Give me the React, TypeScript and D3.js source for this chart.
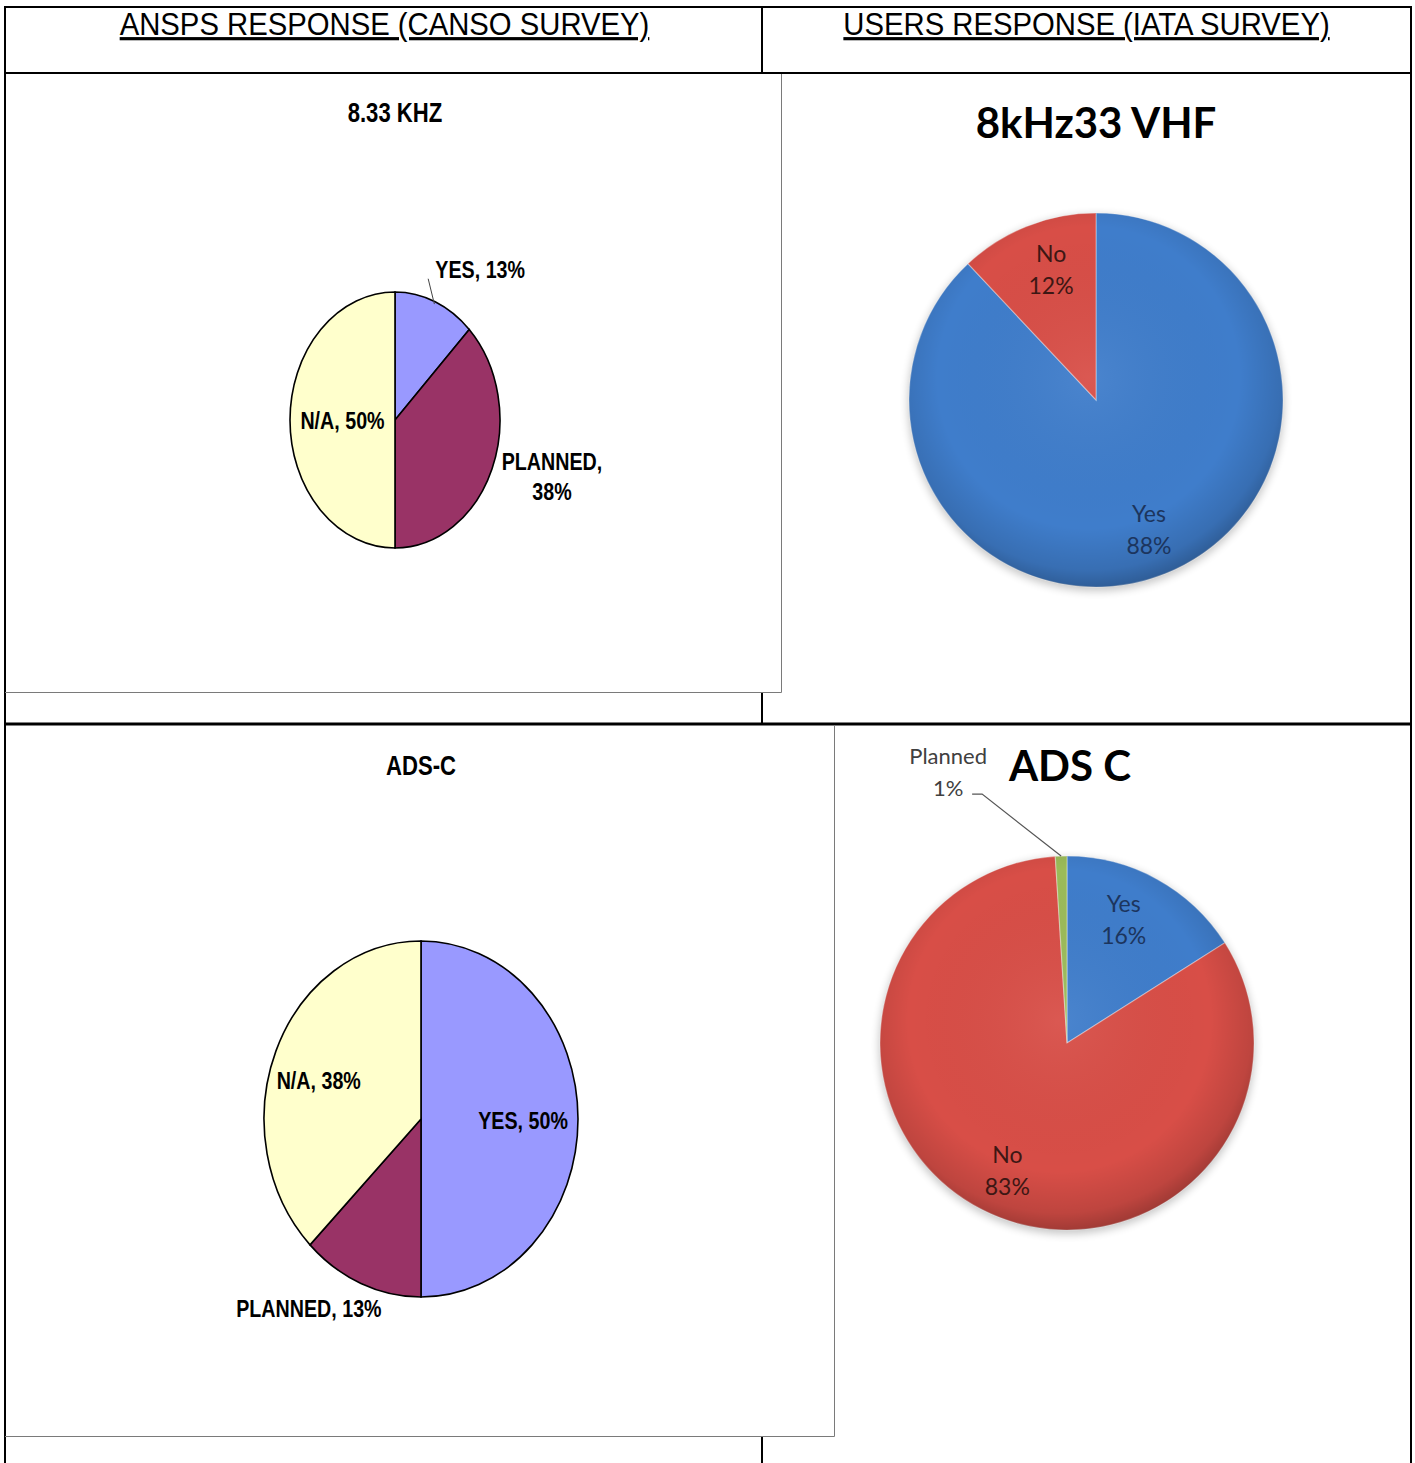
import React from "react";
import * as d3 from "d3";

const W = 1415;
const H = 1463;

// ---------- data ----------
const headerTitles = ["ANSPS RESPONSE (CANSO SURVEY)", "USERS RESPONSE (IATA SURVEY)"];

const cansoVhfTitle = "8.33 KHZ";
const cansoVhfCategories = ["YES", "PLANNED", "N/A"];
const cansoVhfValues = [12.5, 37.5, 50];

const cansoAdscTitle = "ADS-C";
const cansoAdscCategories = ["YES", "PLANNED", "N/A"];
const cansoAdscValues = [50, 12.5, 37.5];

const iataVhfTitle = "8kHz33 VHF";
const iataVhfCategories = ["Yes", "No"];
const iataVhfValues = [88, 12];

const iataAdscTitle = "ADS C";
const iataAdscCategories = ["Yes", "No", "Planned"];
const iataAdscValues = [16, 83, 1];

// ---------- styles ----------
const cansoColors: Record<string, string> = { YES: "#9999ff", PLANNED: "#993366", "N/A": "#ffffcc" };
const iataColors: Record<string, string> = { Yes: "#3f7dcb", No: "#d84e47", Planned: "#9bbb59" };
const iataTextColors: Record<string, string> = { Yes: "#1c355e", No: "#3d1714", Planned: "#404040" };

const ARIAL = "'Liberation Sans', Arial, sans-serif";
const CAL = "Lato, 'Open Sans', sans-serif";
const pct = d3.format(".0%");

type LabelCfg = { r: number; dx: number; dy: number; split?: boolean; leader?: number[] };

function NText(props: any) {
  const { x, y, anchor = "middle", size, weight = "bold", children, underline, sx = 0.82 } = props;
  return (
    <text
      transform={`translate(${x},${y}) scale(${sx},1)`}
      textAnchor={anchor}
      fontFamily={ARIAL}
      fontSize={size}
      fontWeight={weight}
      fill="#000"
      style={underline ? { textDecoration: "underline" } : undefined}
    >
      {children}
    </text>
  );
}

function polar(a: number, rx: number, ry: number) {
  return [Math.sin(a) * rx, -Math.cos(a) * ry];
}

function CansoPie(props: any) {
  const { title, titleX, titleY, categories, values, cx, cy, rx, ry, labels } = props;
  const total = d3.sum(values as number[]);
  const pie = d3.pie<number>().sort(null).value((d) => d);
  const arcs = pie(values);
  const arc = d3.arc<any>().innerRadius(0).outerRadius(1);
  return (
    <g>
      <NText x={titleX} y={titleY} size={27}>{title}</NText>
      <g transform={`translate(${cx},${cy}) scale(${rx},${ry})`}>
        {arcs.map((a, i) => (
          <path
            key={i}
            d={arc(a) as string}
            fill={cansoColors[categories[i]]}
            stroke="#000"
            strokeWidth={1.6}
            vectorEffect="non-scaling-stroke"
          />
        ))}
      </g>
      {arcs.map((a, i) => {
        const cfg: LabelCfg = labels[i];
        const mid = (a.startAngle + a.endAngle) / 2;
        const [px, py] = polar(mid, rx * cfg.r, ry * cfg.r);
        const lx = cx + px + cfg.dx;
        const ly = cy + py + cfg.dy;
        const txt = `${categories[i]}, ${pct(values[i] / total)}`;
        const parts = cfg.split ? [`${categories[i]},`, pct(values[i] / total)] : [txt];
        const [ex, ey] = polar(mid, rx * 0.98, ry * 0.98);
        return (
          <g key={i}>
            {cfg.leader && (
              <line
                x1={cx + ex}
                y1={cy + ey}
                x2={lx + cfg.leader[0]}
                y2={ly + cfg.leader[1]}
                stroke="#444"
                strokeWidth={1}
              />
            )}
            {parts.map((p, j) => (
              <NText key={j} x={lx} y={ly + 8 + (j - (parts.length - 1) / 2) * 30} size={24}>
                {p}
              </NText>
            ))}
          </g>
        );
      })}
    </g>
  );
}

function IataPie(props: any) {
  const { id, title, titleX, titleY, categories, values, cx, cy, r, labels } = props;
  const total = d3.sum(values as number[]);
  const pie = d3.pie<number>().sort(null).value((d) => d);
  const arcs = pie(values);
  const arc = d3.arc<any>().innerRadius(0).outerRadius(r);
  return (
    <g>
      <defs>
        <radialGradient id={`shade-${id}`} cx="48%" cy="44%" r="56%">
          <stop offset="0%" stopColor="#fff" stopOpacity={0.06} />
          <stop offset="72%" stopColor="#000" stopOpacity={0} />
          <stop offset="92%" stopColor="#000" stopOpacity={0.12} />
          <stop offset="100%" stopColor="#000" stopOpacity={0.25} />
        </radialGradient>
        <filter id={`blur-${id}`} x="-20%" y="-20%" width="140%" height="140%">
          <feGaussianBlur stdDeviation={4} />
        </filter>
      </defs>
      <text x={titleX} y={titleY} textAnchor="middle" fontFamily={CAL} fontWeight="bold" fontSize={42} fill="#000">
        {title}
      </text>
      <circle cx={cx} cy={cy + 3} r={r + 1} fill="#000" opacity={0.22} filter={`url(#blur-${id})`} />
      <g transform={`translate(${cx},${cy})`}>
        {arcs.map((a, i) => (
          <path
            key={i}
            d={arc(a) as string}
            fill={iataColors[categories[i]]}
            stroke="rgba(255,255,255,0.35)"
            strokeWidth={1.2}
          />
        ))}
        <circle r={r} fill={`url(#shade-${id})`} />
      </g>
      {arcs.map((a, i) => {
        const cfg: LabelCfg = labels[i];
        const mid = (a.startAngle + a.endAngle) / 2;
        const [px, py] = polar(mid, r * cfg.r, r * cfg.r);
        const lx = cx + px + cfg.dx;
        const ly = cy + py + cfg.dy;
        const [ex, ey] = polar(mid, r, r);
        const lines = [categories[i], pct(values[i] / total)];
        return (
          <g key={i}>
            {cfg.leader && (
              <polyline
                points={`${cx + ex},${cy + ey} ${lx + cfg.leader[0]},${ly + cfg.leader[1]} ${lx + cfg.leader[2]},${ly + cfg.leader[3]}`}
                fill="none"
                stroke="#555"
                strokeWidth={1.2}
              />
            )}
            {lines.map((t, j) => (
              <text
                key={j}
                x={lx}
                y={ly + 8 + (j - 0.5) * 32}
                textAnchor="middle"
                fontFamily={CAL}
                fontSize={cfg.leader ? 22 : 23}
                fill={iataTextColors[categories[i]]}
              >
                {t}
              </text>
            ))}
          </g>
        );
      })}
    </g>
  );
}

export default function App() {
  const frame = "#7a7a7a";
  return (
    <svg
      width={W}
      height={H}
      viewBox={`0 0 ${W} ${H}`}
      style={{ position: "absolute", left: 0, top: 0, background: "#fff" }}
    >
      <rect x={0} y={0} width={W} height={H} fill="#fff" />

      {/* table grid */}
      <g stroke="#000" fill="none">
        <line x1={5} y1={7} x2={1412} y2={7} strokeWidth={2} />
        <line x1={5} y1={6} x2={5} y2={H} strokeWidth={2} />
        <line x1={1411} y1={6} x2={1411} y2={H} strokeWidth={2} />
        <line x1={5} y1={73} x2={1412} y2={73} strokeWidth={2} />
        <line x1={762} y1={7} x2={762} y2={73} strokeWidth={2} />
        <line x1={762} y1={692} x2={762} y2={724} strokeWidth={2} />
        <line x1={5} y1={724} x2={1412} y2={724} strokeWidth={3} />
        <line x1={762} y1={1436} x2={762} y2={H} strokeWidth={2} />
      </g>
      {/* embedded chart frames */}
      <g stroke={frame} fill="none" strokeWidth={1}>
        <line x1={781.5} y1={74} x2={781.5} y2={692.5} />
        <line x1={5} y1={692.5} x2={781.5} y2={692.5} />
        <line x1={834.5} y1={726} x2={834.5} y2={1436.5} />
        <line x1={5} y1={1436.5} x2={834.5} y2={1436.5} />
      </g>

      {/* headers */}
      <NText x={384.5} y={35} size={32} sx={0.915} weight="normal" underline>
        {headerTitles[0]}
      </NText>
      <NText x={1086.5} y={35} size={32} sx={0.915} weight="normal" underline>
        {headerTitles[1]}
      </NText>

      <CansoPie
        title={cansoVhfTitle}
        titleX={395}
        titleY={122}
        categories={cansoVhfCategories}
        values={cansoVhfValues}
        cx={395}
        cy={420}
        rx={105}
        ry={128}
        labels={[
          { r: 1, dx: 45, dy: -32, leader: [-52, 9] },
          { r: 1, dx: 60, dy: 8, split: true },
          { r: 0.5, dx: 0, dy: 1 },
        ]}
      />

      <CansoPie
        title={cansoAdscTitle}
        titleX={421}
        titleY={775}
        categories={cansoAdscCategories}
        values={cansoAdscValues}
        cx={421}
        cy={1119}
        rx={157}
        ry={178}
        labels={[
          { r: 0.65, dx: 0, dy: 2 },
          { r: 1, dx: -52, dy: 26 },
          { r: 0.65, dx: -8, dy: 6 },
        ]}
      />

      <IataPie
        id="vhf"
        title={iataVhfTitle}
        titleX={1096}
        titleY={138}
        categories={iataVhfCategories}
        values={iataVhfValues}
        cx={1096}
        cy={400}
        r={187}
        labels={[
          { r: 0.74, dx: 2, dy: 1 },
          { r: 0.74, dx: 6, dy: -1 },
        ]}
      />

      <IataPie
        id="adsc"
        title={iataAdscTitle}
        titleX={1070}
        titleY={781}
        categories={iataAdscCategories}
        values={iataAdscValues}
        cx={1067}
        cy={1043}
        r={187}
        labels={[
          { r: 0.73, dx: -9, dy: -3 },
          { r: 0.75, dx: 4, dy: 3 },
          { r: 1, dx: -113, dy: -84, leader: [34, 22, 24, 22] },
        ]}
      />
    </svg>
  );
}
